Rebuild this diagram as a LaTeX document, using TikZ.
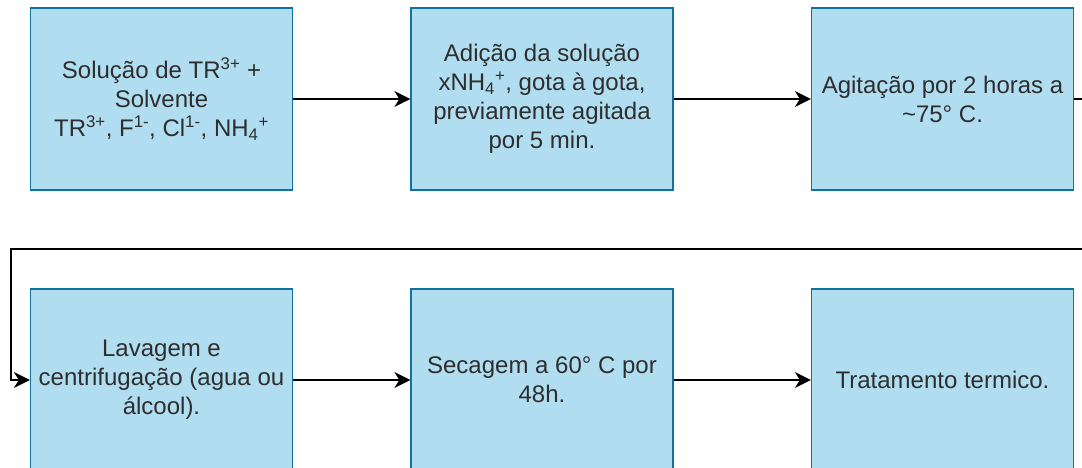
\documentclass[tikz,border=0pt]{standalone}
\usepackage{fontspec}
\setmainfont{Liberation Sans}
\usetikzlibrary{arrows.meta}
\definecolor{boxfill}{HTML}{B1DDF0}
\definecolor{boxline}{HTML}{10739E}
\definecolor{txt}{HTML}{2E2E2E}
\begin{document}
\begin{tikzpicture}[x=1pt,y=1pt,
  stepbox/.style={draw=boxline, fill=boxfill, line width=1.3pt,
    minimum width=262pt, minimum height=182pt, inner sep=0pt,
    align=center, text=txt, font=\fontsize{24}{29}\selectfont},
  flow/.style={draw=black, line width=1.5pt,
    -{Stealth[length=16pt,width=16pt,inset=5pt]}}]
\useasboundingbox (0,0) rectangle (1082,-468);
\clip (0,0) rectangle (1082,-468);
% first row
\node[stepbox] (b1) at (161.5,-99) {Solução de TR\textsuperscript{3+} +\\Solvente\\TR\textsuperscript{3+}, F\textsuperscript{1-}, Cl\textsuperscript{1-}, NH\textsubscript{4}\textsuperscript{+}};
\node[stepbox] (b2) at (542,-99) {Adição da solução\\xNH\textsubscript{4}\textsuperscript{+}, gota à gota,\\previamente agitada\\por 5 min.};
\node[stepbox] (b3) at (942.5,-99) {Agitação por 2 horas a\\\textasciitilde75° C.};
% second row
\node[stepbox] (b4) at (161.5,-380) {Lavagem e\\centrifugação (agua ou\\álcool).};
\node[stepbox] (b5) at (542,-380) {Secagem a 60° C por\\48h.};
\node[stepbox] (b6) at (942.5,-380) {Tratamento termico.};
% return path from the end of the first row to the second row
\coordinate (r1) at (1100,-99);
\coordinate (r2) at (1100,-249);
\coordinate (r3) at (11,-249);
\draw[flow] (b1) -- (b2);
\draw[flow] (b2) -- (b3);
\draw[flow] (b3.east) -- (r1) -- (r2) -- (r3) |- (b4.west);
\draw[flow] (b4) -- (b5);
\draw[flow] (b5) -- (b6);
\end{tikzpicture}
\end{document}
